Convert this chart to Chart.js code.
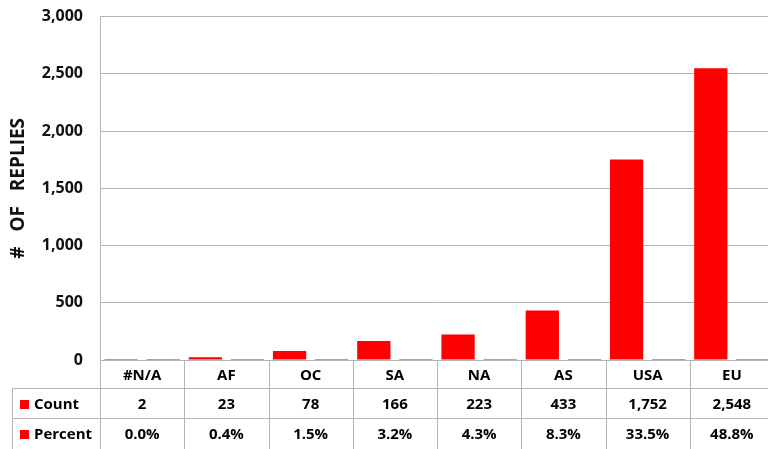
<!DOCTYPE html>
<html>
<head>
<meta charset="utf-8">
<script src="https://cdn.jsdelivr.net/npm/chart.js@4"></script>
<style>
  html, body { margin: 0; padding: 0; background: #fff; }
  #wrap { width: 768px; height: 449px; overflow: hidden; position: relative; }
  #box { width: 774px; height: 459px; position: absolute; left: 0; top: -10px; }
</style>
</head>
<body>
<div id="wrap"><div id="box"><canvas id="repliesChart"></canvas></div></div>
<script>
const categories = ['#N/A', 'AF', 'OC', 'SA', 'NA', 'AS', 'USA', 'EU'];
const counts = [2, 23, 78, 166, 223, 433, 1752, 2548];
const percents = [0.000, 0.004, 0.015, 0.032, 0.043, 0.083, 0.335, 0.488];
const yTicks = [0, 500, 1000, 1500, 2000, 2500, 3000];

const FONT = '"Open Sans", sans-serif';
const RED = '#ff0000';
const LINE = '#b4b4b4';

// data table under the plot, Excel style
const dataTable = {
    id: 'dataTable',
    afterDraw(chart) {
        const ctx = chart.ctx;
        const area = chart.chartArea;
        const x = chart.scales.x;
        const colW = (area.right - area.left) / categories.length;
        const top = area.bottom;
        const r1 = top + 28.5;
        const r2 = r1 + 30;
        const bottom = chart.height;
        const legendLeft = 12.5;

        ctx.save();
        ctx.strokeStyle = LINE;
        ctx.lineWidth = 1;
        ctx.beginPath();
        for (let i = 0; i <= categories.length; i++) {
            const lx = Math.round(area.left + i * colW) + 0.5;
            ctx.moveTo(lx, top);
            ctx.lineTo(lx, bottom);
        }
        ctx.moveTo(legendLeft, r1);
        ctx.lineTo(area.right, r1);
        ctx.moveTo(legendLeft, r2);
        ctx.lineTo(area.right, r2);
        ctx.moveTo(legendLeft, r1);
        ctx.lineTo(legendLeft, bottom);
        ctx.stroke();

        ctx.fillStyle = '#000';
        ctx.font = 'bold 15px ' + FONT;
        ctx.textAlign = 'center';
        ctx.textBaseline = 'middle';
        categories.forEach((c, i) => {
            const cx = x.getPixelForValue(i);
            ctx.fillText(c, cx, (top + r1) / 2 + 1);
            ctx.fillText(counts[i].toLocaleString('en-US'), cx, (r1 + r2) / 2 + 1);
            ctx.fillText((percents[i] * 100).toFixed(1) + '%', cx, (r2 + bottom) / 2 + 1);
        });

        const rows = [['Count', (r1 + r2) / 2], ['Percent', (r2 + bottom) / 2]];
        ctx.textAlign = 'left';
        rows.forEach(([label, cy]) => {
            ctx.fillStyle = RED;
            ctx.fillRect(20, Math.round(cy - 4), 9, 9);
            ctx.fillStyle = '#000';
            ctx.fillText(label, 34, cy + 1);
        });
        ctx.restore();
    }
};

new Chart(document.getElementById('repliesChart'), {
    type: 'bar',
    data: {
        labels: categories,
        datasets: [{
            label: 'Count',
            data: counts,
            backgroundColor: RED,
            minBarLength: 1
        }, {
            label: 'Percent',
            data: percents,
            backgroundColor: RED,
            minBarLength: 1
        }]
    },
    options: {
        responsive: true,
        maintainAspectRatio: false,
        animation: false,
        layout: { padding: { top: -3, bottom: 89, left: 0, right: 0 } },
        datasets: { bar: { barPercentage: 0.79, categoryPercentage: 1 } },
        plugins: {
            legend: { display: false },
            tooltip: { enabled: false }
        },
        scales: {
            x: { display: false },
            y: {
                min: 0,
                max: 3000,
                afterBuildTicks(scale) { scale.ticks = yTicks.map(v => ({ value: v })); },
                afterFit(scale) { scale.width = 100; },
                grid: { color: LINE, drawTicks: false },
                border: { color: LINE },
                ticks: {
                    padding: 17,
                    color: '#111',
                    font: { family: FONT, size: 16, weight: 'bold' },
                    callback: v => v.toLocaleString('en-US')
                },
                title: {
                    display: true,
                    text: '#   OF   REPLIES',
                    color: '#111',
                    font: { family: FONT, size: 19, weight: 'bold' },
                    padding: { top: 7, bottom: 0 }
                }
            }
        }
    },
    plugins: [dataTable]
});
</script>
</body>
</html>
